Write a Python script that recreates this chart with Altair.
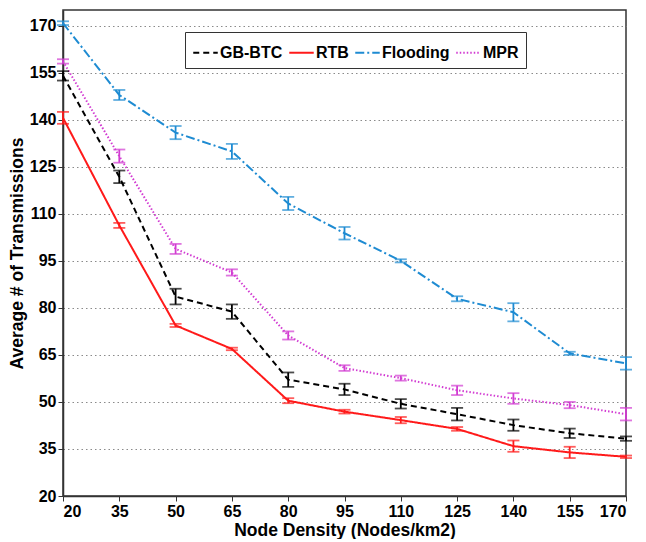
import altair as alt
import pandas as pd

density = [20, 35, 50, 65, 80, 95, 110, 125, 140, 155, 170]
series_names = ["GB-BTC", "RTB", "Flooding", "MPR"]

gbbtc = [154.0, 121.8, 83.6, 78.8, 57.1, 54.0, 49.4, 46.1, 42.6, 40.0, 38.3]
gbbtc_err = [1.5, 2.0, 2.5, 2.3, 2.3, 1.8, 1.5, 2.0, 1.8, 1.5, 0.7]
rtb = [140.6, 106.3, 74.4, 66.9, 50.4, 46.9, 44.2, 41.4, 35.9, 33.9, 32.5]
rtb_err = [1.9, 0.8, 0.5, 0.4, 0.8, 0.6, 1.0, 0.6, 1.8, 1.8, 0.4]
flooding = [170.8, 147.9, 135.9, 129.9, 113.3, 103.8, 95.0, 82.9, 78.6, 65.5, 62.3]
flooding_err = [0.6, 1.6, 2.1, 2.4, 2.1, 2.0, 0.5, 0.8, 2.9, 0.5, 2.0]
mpr = [158.6, 128.4, 98.8, 91.3, 71.2, 60.8, 57.6, 53.7, 51.1, 49.0, 46.1]
mpr_err = [0.7, 2.1, 1.6, 1.0, 1.3, 0.9, 0.8, 1.5, 1.7, 1.0, 2.0]

colors = ["#000000", "#FF1A1A", "#1E8BD2", "#D23CD2"]
dashes = [[6, 4], [1, 0], [9, 3, 2, 3], [1.5, 2]]

values = [gbbtc, rtb, flooding, mpr]
errs = [gbbtc_err, rtb_err, flooding_err, mpr_err]
rows = []
for name, vals, es in zip(series_names, values, errs):
    for x, v, e in zip(density, vals, es):
        rows.append({"x": x, "v": v, "lo": v - e, "hi": v + e, "series": name})
df = pd.DataFrame(rows)

FONT = "Liberation Sans"
ticks = [20, 35, 50, 65, 80, 95, 110, 125, 140, 155, 170]

xscale = alt.Scale(domain=[20, 170], nice=False, zero=False)
yscale = alt.Scale(domain=[20, 175], nice=False, zero=False)
cscale = alt.Scale(domain=series_names, range=colors)

base = alt.Chart(df)

lines = base.mark_line(strokeWidth=2).encode(
    x=alt.X("x:Q", scale=xscale,
            axis=alt.Axis(values=ticks, title="Node Density (Nodes/km2)", grid=False,
                          tickSize=5, labelPadding=2, titlePadding=2)),
    y=alt.Y("v:Q", scale=yscale,
            axis=alt.Axis(values=ticks, title="Average # of Transmissions", grid=True,
                          gridDash=[1.5, 3], gridColor="#8a8a8a", gridWidth=1,
                          tickSize=5, labelPadding=2, titlePadding=3)),
    color=alt.Color("series:N", scale=cscale, sort=series_names,
                    legend=alt.Legend(title=None, orient="none", direction="horizontal",
                                      legendX=122, legendY=22, symbolType="stroke",
                                      symbolSize=600, symbolStrokeWidth=2,
                                      labelFont=FONT, labelFontSize=16, labelFontWeight="bold",
                                      labelColor="#000", strokeColor="#333", fillColor="white",
                                      padding=7, columnPadding=2, symbolOffset=0, labelOffset=1,
                                      cornerRadius=0)),
    strokeDash=alt.StrokeDash("series:N",
                              scale=alt.Scale(domain=series_names, range=dashes),
                              sort=series_names, legend=None),
)

bars = base.mark_errorbar(ticks={"size": 12, "thickness": 1.8}, thickness=1.8).encode(
    x="x:Q",
    y=alt.Y("lo:Q", scale=yscale, title="Average # of Transmissions"),
    y2="hi:Q",
    color=alt.Color("series:N", scale=cscale, sort=series_names, legend=None),
)

chart = alt.layer(lines, bars).properties(
    width=563, height=486, padding={"left": 0, "top": 2, "right": 5, "bottom": 0}
).configure_view(
    stroke="#333", strokeWidth=1.5
).configure_axis(
    labelFont=FONT, labelFontSize=16, labelFontWeight="bold", labelColor="#000",
    titleFont=FONT, titleFontSize=17.5, titleFontWeight="bold", titleColor="#000",
    domainColor="#333", tickColor="#333", domainWidth=1.5
)

chart.save("out.html", embed_options={"renderer": "svg", "actions": False})
